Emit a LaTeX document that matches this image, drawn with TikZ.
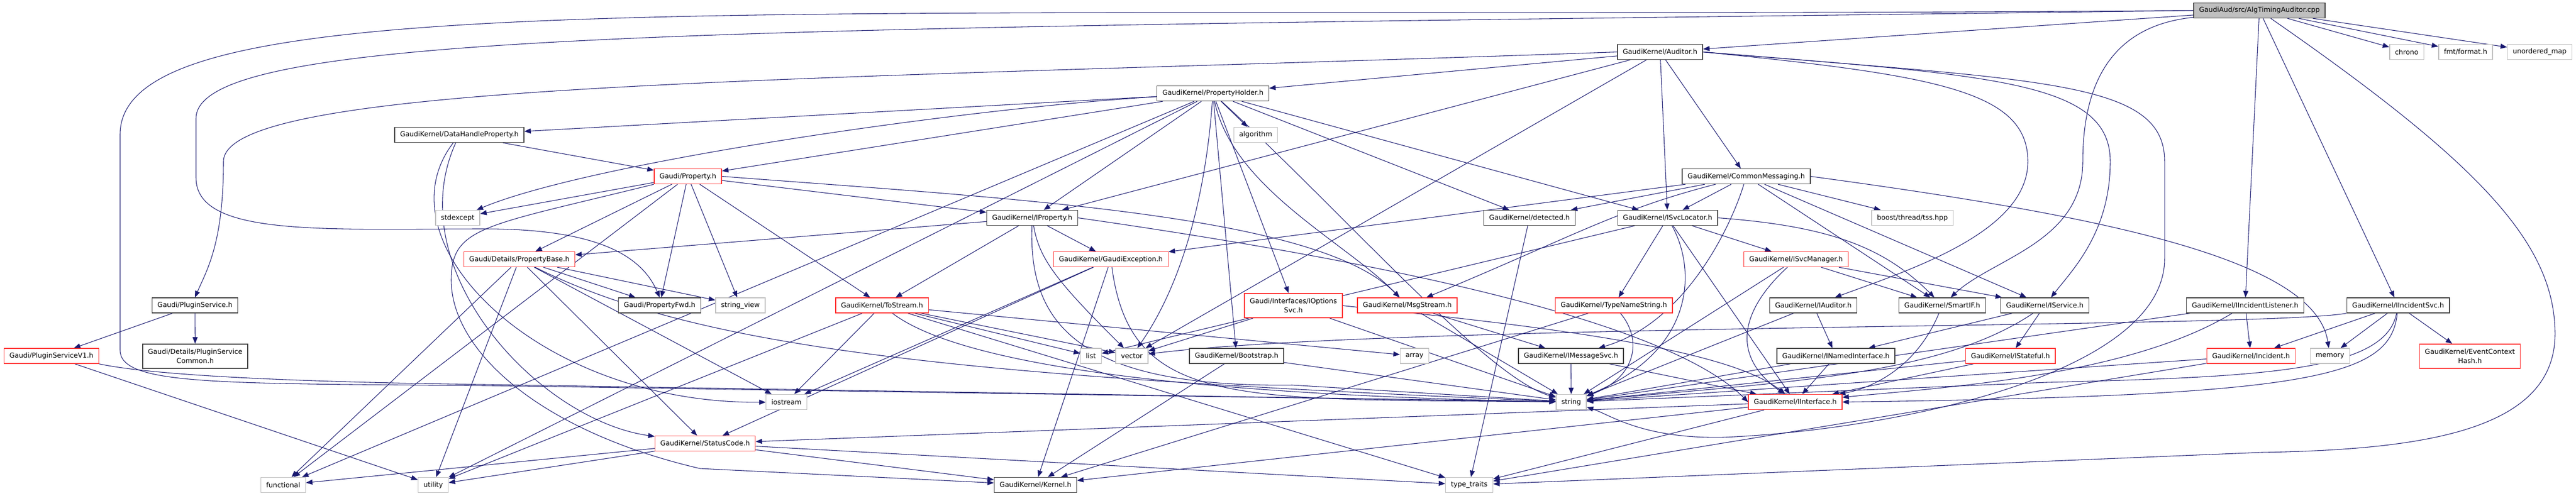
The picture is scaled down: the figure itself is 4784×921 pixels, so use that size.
\documentclass[tikz,border=0pt]{standalone}
\usepackage{fontspec}
\newfontfamily\graphfont{DejaVu Sans}
\usetikzlibrary{arrows.meta}
\definecolor{edgeblue}{HTML}{191970}
\definecolor{boxgray}{HTML}{404040}
\definecolor{boxred}{HTML}{FF3030}
\definecolor{sysgray}{HTML}{BFBFBF}
\definecolor{topfill}{HTML}{BFBFBF}
\pgfdeclarelayer{bg}
\pgfsetlayers{bg,main}
\tikzset{
  file/.style={draw=boxgray,line width=1.1pt,fill=white,minimum height=21pt,inner xsep=7.5pt,inner ysep=2pt,align=center,font=\graphfont\fontsize{9.5}{12.75}\selectfont},
  trunc/.style={file,draw=boxred},
  sys/.style={file,draw=sysgray},
  mainfile/.style={file,fill=topfill},
  dep/.style={draw=edgeblue,line width=0.8pt,-{Triangle[length=9pt,width=7pt]}},
}
\begin{document}
\begin{tikzpicture}[x=0.75pt,y=-0.75pt]
\useasboundingbox (0,0) rectangle (4784,921);
\node[mainfile] (alg) at (4196,19.5) {GaudiAud/src/AlgTimingAuditor.cpp};
\node[sys] (chrono) at (4469.5,96.5) {chrono};
\node[sys] (fmt) at (4579,96.5) {fmt/format.h};
\node[sys] (umap) at (4716.5,96.5) {unordered\_map};
\node[file] (auditor) at (3083,96.5) {GaudiKernel/Auditor.h};
\node[file] (propholder) at (2252.5,173.5) {GaudiKernel/PropertyHolder.h};
\node[sys] (algorithm) at (2332,250.5) {algorithm};
\node[file] (dhprop) at (853,250.5) {GaudiKernel/DataHandleProperty.h};
\node[trunc] (property) at (1277.5,327.5) {Gaudi/Property.h};
\node[file] (commonmsg) at (3243,327.5) {GaudiKernel/CommonMessaging.h};
\node[sys] (stdexcept) at (850,404.5) {stdexcept};
\node[file] (iproperty) at (1917,404.5) {GaudiKernel/IProperty.h};
\node[file] (detected) at (2840.5,404.5) {GaudiKernel/detected.h};
\node[file] (isvcloc) at (3097,404.5) {GaudiKernel/ISvcLocator.h};
\node[sys] (boosttss) at (3551.5,404.5) {boost/thread/tss.hpp};
\node[trunc] (propbase) at (964.5,481.5) {Gaudi/Details/PropertyBase.h};
\node[trunc] (gaudiexc) at (2063,481.5) {GaudiKernel/GaudiException.h};
\node[trunc] (isvcmgr) at (3335.5,481.5) {GaudiKernel/ISvcManager.h};
\node[file] (pluginsvc) at (362,567) {Gaudi/PluginService.h};
\node[file] (propfwd) at (1225,567) {Gaudi/PropertyFwd.h};
\node[sys] (strview) at (1375,567) {string\_view};
\node[trunc] (tostream) at (1638,567) {GaudiKernel/ToStream.h};
\node[trunc,minimum height=34pt] (ioptsvc) at (2402,567.5) {Gaudi/Interfaces/IOptions\\Svc.h};
\node[trunc] (msgstream) at (2613.5,567) {GaudiKernel/MsgStream.h};
\node[trunc] (typename) at (2997,567) {GaudiKernel/TypeNameString.h};
\node[file] (iauditor) at (3367.5,567) {GaudiKernel/IAuditor.h};
\node[file] (smartif) at (3607,567) {GaudiKernel/SmartIF.h};
\node[file] (iservice) at (3797.5,567) {GaudiKernel/IService.h};
\node[file] (iinclist) at (4169.5,567) {GaudiKernel/IIncidentListener.h};
\node[file] (iincsvc) at (4453.5,567) {GaudiKernel/IIncidentSvc.h};
\node[trunc] (pluginv1) at (95.5,661) {Gaudi/PluginServiceV1.h};
\node[file,minimum height=34pt] (plugincommon) at (362.5,661.5) {Gaudi/Details/PluginService\\Common.h};
\node[sys] (list) at (2026,661) {list};
\node[sys] (vector) at (2102,661) {vector};
\node[file] (bootstrap) at (2296.5,661) {GaudiKernel/Bootstrap.h};
\node[sys] (array) at (2627,661) {array};
\node[file] (imsgsvc) at (2917.5,661) {GaudiKernel/IMessageSvc.h};
\node[file] (inamed) at (3409.5,661) {GaudiKernel/INamedInterface.h};
\node[trunc] (istateful) at (3733.5,661) {GaudiKernel/IStateful.h};
\node[trunc] (incident) at (4180.5,661) {GaudiKernel/Incident.h};
\node[sys] (memory) at (4327,661) {memory};
\node[trunc,minimum height=34pt] (evctxhash) at (4587,661.5) {GaudiKernel/EventContext\\Hash.h};
\node[sys] (iostream) at (1460.5,746.5) {iostream};
\node[sys] (string) at (2918,746.5) {string};
\node[trunc] (iinterface) at (3334,746.5) {GaudiKernel/IInterface.h};
\node[trunc] (statuscode) at (1309.5,823.5) {GaudiKernel/StatusCode.h};
\node[sys] (functional) at (526,900.5) {functional};
\node[sys] (utility) at (804.5,900.5) {utility};
\node[file] (kernel) at (1923,900.5) {GaudiKernel/Kernel.h};
\node[sys] (typetraits) at (2728.5,900.5) {type\_traits};
\begin{pgfonlayer}{bg}
% straight includes
\foreach \t in {auditor,chrono,fmt,umap,iinclist,iincsvc} \draw[dep] (alg) -- (\t);
\foreach \t in {propholder,commonmsg,isvcloc,vector,iproperty} \draw[dep] (auditor) -- (\t);
\foreach \t in {property,dhprop,iproperty,algorithm,bootstrap,detected,isvcloc,ioptsvc,functional,utility} \draw[dep] (propholder) -- (\t);
\draw[dep] (dhprop) -- (property);
\foreach \t in {propbase,propfwd,strview,tostream,iproperty,stdexcept,functional} \draw[dep] (property) -- (\t);
\foreach \t in {propfwd,strview,utility,statuscode,iostream,functional} \draw[dep] (propbase) -- (\t);
\foreach \t in {gaudiexc,propbase,tostream} \draw[dep] (iproperty) -- (\t);
\foreach \t in {iostream,typetraits,list,vector,array,utility} \draw[dep] (tostream) -- (\t);
\foreach \t in {iostream,kernel,statuscode} \draw[dep] (gaudiexc) -- (\t);
\foreach \t in {string,vector} \draw[dep] (ioptsvc) -- (\t);
\foreach \t in {imsgsvc,string} \draw[dep] (msgstream) -- (\t);
\foreach \t in {string,iinterface} \draw[dep] (imsgsvc) -- (\t);
\draw[dep] (typename) -- (kernel);
\foreach \t in {kernel,string} \draw[dep] (bootstrap) -- (\t);
\draw[dep] (detected) -- (typetraits);
\foreach \t in {boosttss,detected,isvcloc,gaudiexc,smartif,iservice} \draw[dep] (commonmsg) -- (\t);
\foreach \t in {isvcmgr,typename,list,iinterface} \draw[dep] (isvcloc) -- (\t);
\foreach \t in {smartif,iservice,string} \draw[dep] (isvcmgr) -- (\t);
\foreach \t in {inamed,string} \draw[dep] (iauditor) -- (\t);
\foreach \t in {iinterface,string} \draw[dep] (inamed) -- (\t);
\foreach \t in {inamed,istateful} \draw[dep] (iservice) -- (\t);
\foreach \t in {iinterface,string} \draw[dep] (istateful) -- (\t);
\foreach \t in {statuscode,kernel,typetraits} \draw[dep] (iinterface) -- (\t);
\foreach \t in {utility,functional,kernel,typetraits} \draw[dep] (statuscode) -- (\t);
\foreach \t in {string,typetraits} \draw[dep] (incident) -- (\t);
\foreach \t in {incident,string} \draw[dep] (iinclist) -- (\t);
\foreach \t in {incident,memory,evctxhash} \draw[dep] (iincsvc) -- (\t);
\foreach \t in {pluginv1,plugincommon} \draw[dep] (pluginsvc) -- (\t);
\draw[dep] (pluginv1) -- (utility);
% routed includes
\draw[dep] (alg.west) .. controls (1400,40) and (223,-40) .. (223,250) -- (223,650) .. controls (223,715) and (400,712) .. (900,716) -- (string);
\draw[dep] (alg.west) .. controls (1400,55) and (364,50) .. (364,220) -- (364,330) .. controls (364,440) and (600,425) .. (900,425) .. controls (1100,425) and (1190,470) .. (propfwd.north);
\draw[dep] (alg) .. controls (3950,45) and (3868,120) .. (3868,300) .. controls (3868,450) and (3700,480) .. (smartif);
\draw[dep] (alg) .. controls (4600,300) and (4745,450) .. (4745,620) .. controls (4745,800) and (4500,835) .. (4200,840) -- (typetraits);
\draw[dep] (auditor.west) .. controls (1500,150) and (415,150) .. (415,300) .. controls (415,450) and (385,500) .. (pluginsvc.north);
\draw[dep] (auditor.east) .. controls (3600,140) and (3766,170) .. (3766,300) .. controls (3766,430) and (3550,500) .. (iauditor);
\draw[dep] (auditor.east) .. controls (3700,140) and (3919,150) .. (3919,300) .. controls (3919,430) and (3850,500) .. (iservice);
\draw[dep] (auditor.east) .. controls (3800,150) and (4020,150) .. (4020,300) -- (4020,480) .. controls (4020,700) and (3500,800) .. (3200,812) .. controls (3050,815) and (2990,770) .. (string);
\draw[dep] (propholder) .. controls (2240,350) and (2200,520) .. (vector);
\draw[dep] (propholder) .. controls (1800,200) and (1100,300) .. (stdexcept);
\draw[dep] (propholder) .. controls (2500,400) and (2760,700) .. (string);
\draw[dep] (propholder) .. controls (2290,350) and (2500,450) .. (msgstream);
\draw[dep] (dhprop) .. controls (700,450) and (1000,750) .. (iostream);
\draw[dep] (dhprop) .. controls (740,500) and (1000,780) .. (statuscode);
\draw[dep] (property.east) .. controls (1900,370) and (2450,400) .. (msgstream);
\draw[dep] (property.south west) .. controls (900,420) and (838,420) .. (838,520) .. controls (838,650) and (1000,800) .. (1300,870) -- (kernel);
\draw[dep] (propbase) .. controls (1300,650) and (1800,700) .. (string);
\draw[dep] (iproperty) .. controls (1930,480) and (1960,520) .. (vector);
\draw[dep] (iproperty) .. controls (1910,600) and (2000,720) .. (2400,715) -- (string);
\draw[dep] (iproperty.east) .. controls (2600,490) and (3100,600) .. (iinterface.west);
\draw[dep] (tostream) .. controls (1800,690) and (2300,735) .. (string);
\draw[dep] (gaudiexc) .. controls (2100,760) and (2300,740) .. (string);
\draw[dep] (ioptsvc.east) .. controls (2800,600) and (3200,640) .. (iinterface);
\draw[dep] (typename) .. controls (3050,630) and (3040,700) .. (string);
\draw[dep] (commonmsg.east) .. controls (3900,400) and (4300,480) .. (memory);
\draw[dep] (commonmsg) .. controls (3215,420) and (3130,600) .. (imsgsvc);
\draw[dep] (commonmsg) .. controls (3000,390) and (2920,440) .. (msgstream);
\draw[dep] (isvcloc.east) .. controls (3400,420) and (3500,460) .. (smartif);
\draw[dep] (isvcloc) .. controls (3150,500) and (3150,650) .. (string);
\draw[dep] (isvcmgr) .. controls (3250,560) and (3200,650) .. (iinterface);
\draw[dep] (smartif) .. controls (3560,680) and (3480,720) .. (iinterface);
\draw[dep] (iservice) .. controls (3600,700) and (3300,710) .. (string);
\draw[dep] (iinclist) .. controls (3950,700) and (3600,720) .. (iinterface);
\draw[dep] (iincsvc) .. controls (4440,700) and (4300,735) .. (iinterface.east);
\draw[dep] (iincsvc) .. controls (4430,690) and (4200,700) .. (3800,710) -- (string);
\draw[dep] (iincsvc.south west) .. controls (4200,610) and (2600,600) .. (vector);
\draw[dep] (pluginv1.south east) .. controls (300,700) and (600,710) .. (900,714) -- (string);
\end{pgfonlayer}
\end{tikzpicture}
\end{document}
